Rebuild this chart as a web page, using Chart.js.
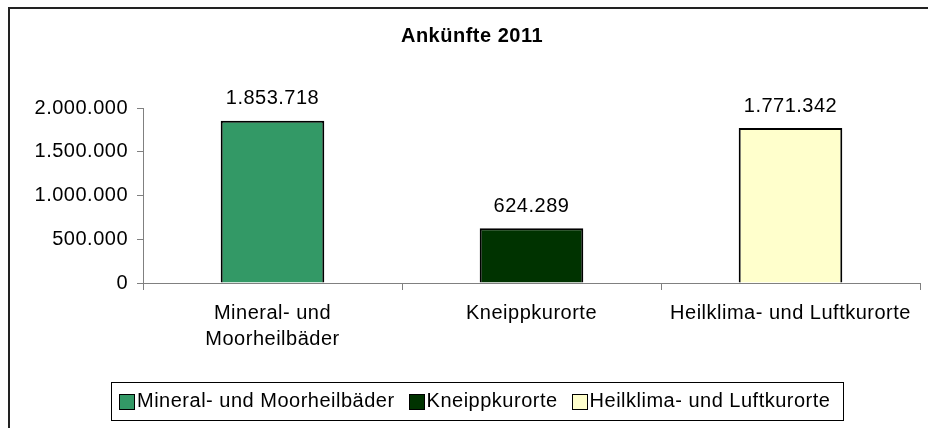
<!DOCTYPE html>
<html>
<head>
<meta charset="utf-8">
<script src="https://cdn.jsdelivr.net/npm/chart.js@4.4.1/dist/chart.umd.min.js"></script>
<style>
  html, body { margin: 0; padding: 0; background: #fff; overflow: hidden; }
  #frame { position: absolute; left: 8px; top: 7px; width: 2000px; height: 2000px; border: 2px solid #222; }
  #chart { position: absolute; left: 0; top: 0; }
</style>
</head>
<body>
<div id="frame"></div>
<canvas id="chart" width="928" height="428"></canvas>
<script>
const chartTitle = 'Ankünfte 2011';
const categories = ['Mineral- und Moorheilbäder', 'Kneippkurorte', 'Heilklima- und Luftkurorte'];
const tickLabels = [['Mineral- und', 'Moorheilbäder'], 'Kneippkurorte', 'Heilklima- und Luftkurorte'];
const arrivals = [1853718, 624289, 1771342];
const barColors = ['#339966', '#003300', '#ffffcc'];
const yTicks = [0, 500000, 1000000, 1500000, 2000000];

const FONT = "'Liberation Sans', Arial, sans-serif";
const SPACING = '0.5px';

// german thousands separator
function fmt(v) {
  return String(v).replace(/\B(?=(\d{3})+(?!\d))/g, '.');
}

// excel-ish wide text
function spacing(chart) { chart.ctx.letterSpacing = SPACING; }
const letterSpacing = {
  id: 'letterSpacing',
  beforeUpdate: spacing,
  beforeLayout: spacing,
  beforeDraw: spacing
};

const valueLabels = {
  id: 'valueLabels',
  afterDatasetsDraw(chart) {
    const ctx = chart.ctx;
    const meta = chart.getDatasetMeta(0);
    ctx.save();
    ctx.font = '20px ' + FONT;
    ctx.fillStyle = '#000';
    ctx.textAlign = 'center';
    ctx.textBaseline = 'middle';
    meta.data.forEach((bar, i) => {
      ctx.fillText(fmt(chart.data.datasets[0].data[i]), bar.x, bar.y - 22);
    });
    ctx.restore();
  }
};

const legendBox = {
  id: 'legendBox',
  afterDraw(chart, args, opts) {
    const ctx = chart.ctx;
    const colors = chart.data.datasets[0].backgroundColor;
    ctx.save();
    ctx.font = '20px ' + FONT;
    ctx.letterSpacing = SPACING;
    const widths = categories.map(t => ctx.measureText(t).width);
    let total = opts.padL + opts.padR + (categories.length - 1) * opts.itemGap;
    widths.forEach(w => { total += opts.box + opts.gap + w; });
    let x = Math.round(opts.centerX - total / 2);
    const top = chart.height - opts.bottom - opts.height;
    const mid = top + opts.height / 2;
    ctx.strokeStyle = '#000';
    ctx.lineWidth = 1;
    ctx.strokeRect(x + 0.5, top + 0.5, Math.round(total), opts.height);
    x += opts.padL;
    ctx.textBaseline = 'middle';
    ctx.textAlign = 'left';
    categories.forEach((t, i) => {
      const bx = Math.round(x) + 0.5, by = Math.round(mid - opts.box / 2) + 0.5;
      ctx.fillStyle = colors[i];
      ctx.fillRect(bx, by, opts.box, opts.box);
      ctx.strokeRect(bx, by, opts.box, opts.box);
      x += opts.box + opts.gap;
      ctx.fillStyle = '#000';
      ctx.fillText(t, x, mid);
      x += widths[i] + opts.itemGap;
    });
    ctx.restore();
  }
};

Chart.defaults.color = '#000';
Chart.defaults.font.family = FONT;
Chart.defaults.font.size = 20;

new Chart(document.getElementById('chart'), {
  type: 'bar',
  data: {
    labels: tickLabels,
    datasets: [{
      label: chartTitle,
      data: arrivals,
      backgroundColor: barColors,
      borderColor: '#000',
      borderWidth: 2,
      categoryPercentage: 1,
      barPercentage: 0.4
    }]
  },
  options: {
    responsive: false,
    animation: false,
    devicePixelRatio: 1,
    layout: { padding: { left: 24, right: 8, top: 13, bottom: 0 } },
    plugins: {
      legend: { display: false },
      tooltip: { enabled: false },
      title: {
        display: true,
        text: chartTitle,
        font: { size: 20, weight: 'bold' },
        padding: { top: 11, bottom: 60 }
      },
      legendBox: { centerX: 477, bottom: 8, height: 38, box: 15, gap: 3, itemGap: 14, padL: 8, padR: 13 }
    },
    scales: {
      x: {
        afterFit(scale) { scale.height = 145; },
        border: { color: '#808080', width: 1 },
        grid: { offset: true, drawOnChartArea: false, tickLength: 7, color: '#808080' },
        ticks: { autoSkip: false, maxRotation: 0, padding: 10, font: { size: 20, lineHeight: 1.33 } }
      },
      y: {
        min: 0,
        max: 2000000,
        afterFit(scale) { scale.width = 119; },
        afterBuildTicks(scale) { scale.ticks = yTicks.map(v => ({ value: v })); },
        border: { color: '#808080', width: 1 },
        grid: { drawOnChartArea: false, tickLength: 6, color: '#808080' },
        ticks: { padding: 9, callback: v => fmt(v) }
      }
    }
  },
  plugins: [letterSpacing, valueLabels, legendBox]
});
</script>
</body>
</html>
